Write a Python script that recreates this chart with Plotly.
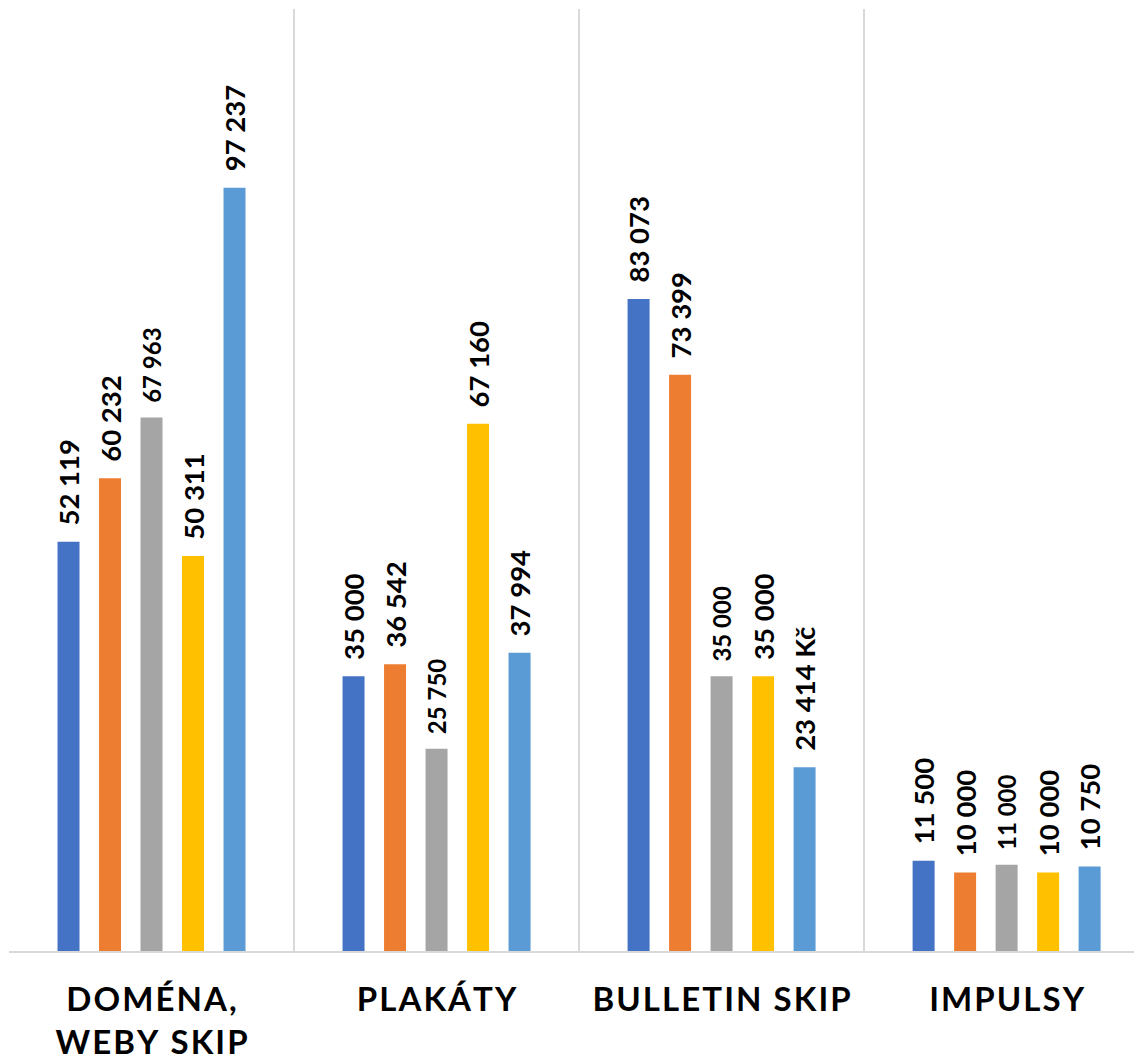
import plotly.graph_objects as go

categories = ["DOMÉNA,<br>WEBY SKIP", "PLAKÁTY", "BULLETIN SKIP", "IMPULSY"]
series1 = [52119, 35000, 83073, 11500]
series2 = [60232, 36542, 73399, 10000]
series3 = [67963, 25750, 35000, 11000]
series4 = [50311, 67160, 35000, 10000]
series5 = [97237, 37994, 23414, 10750]
suffix5 = ["", "", " Kč", ""]

colors = ["#4472C4", "#ED7D31", "#A5A5A5", "#FFC000", "#5B9BD5"]
label_sizes = [27.5, 27.5, 24, 27.5, 27.5]

PAD = "\u00a0\u00a0"


def fmt(v):
    return f"{v:,}".replace(",", " ")


def spaced(label):
    # widen letter spacing with hair spaces
    parts = label.split("<br>")
    return "<br>".join("\u200a".join(list(p)) for p in parts)


all_series = [series1, series2, series3, series4, series5]
x = list(range(len(categories)))

fig = go.Figure()
for i, s in enumerate(all_series):
    texts = [fmt(v) for v in s]
    if i == 4:
        texts = [t + suf for t, suf in zip(texts, suffix5)]
    texts = [PAD + t for t in texts]
    fig.add_trace(go.Bar(
        x=x, y=s, marker=dict(color=colors[i], line=dict(width=0)),
        text=texts, textposition="outside", textangle=-90,
        textfont=dict(family="Lato", size=label_sizes[i], color="#000000", weight="bold"),
        constraintext="none", cliponaxis=False, hoverinfo="skip",
    ))

fig.update_layout(
    width=1134, height=1053,
    margin=dict(l=1, r=0, t=1, b=110),
    paper_bgcolor="white", plot_bgcolor="white",
    barmode="group", bargap=0.272, bargroupgap=0.47,
    showlegend=False,
    xaxis=dict(
        range=[-0.5, 3.475], tickmode="array", tickvals=x,
        ticktext=[spaced(c) for c in categories],
        tickfont=dict(family="Lato", size=33, color="#000000", weight="bold"),
        showgrid=False, zeroline=False, ticks="", ticklabelstandoff=18,
        showline=True, linecolor="#D9D9D9", linewidth=2,
        minor=dict(tick0=-0.5, dtick=1, showgrid=True, gridcolor="#D9D9D9", gridwidth=1.5, ticks=""),
    ),
    yaxis=dict(range=[0, 120000], showticklabels=False, showgrid=False, zeroline=False),
)

fig.write_html("out.html")
